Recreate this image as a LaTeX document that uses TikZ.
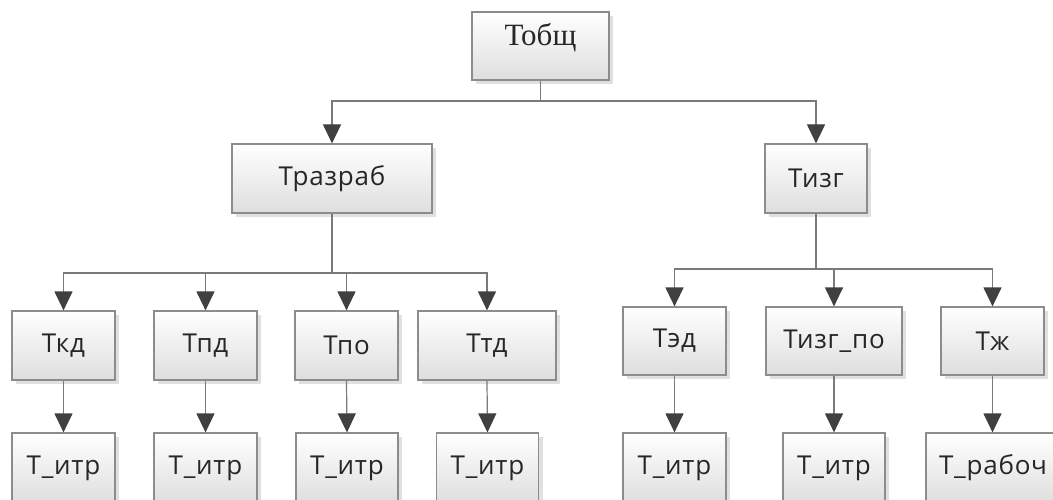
\documentclass[tikz,border=0pt]{standalone}
\usepackage{fontspec}
\setmainfont{Open Sans}[LetterSpace=3]
\newfontfamily\serifrm{Liberation Serif}
\usetikzlibrary{arrows.meta,shadows}
\definecolor{boxline}{HTML}{8C8C8C}
\definecolor{boxbot}{HTML}{DEDEDE}
\definecolor{linegray}{HTML}{7A7A7A}
\definecolor{tipcol}{HTML}{404040}
\definecolor{txt}{HTML}{262626}
\tikzset{
  boxnode/.style={draw=boxline, line width=1.2pt, top color=white, bottom color=boxbot,
    text=txt, font=\fontsize{26}{29}\selectfont, inner sep=0pt, anchor=center,
    drop shadow={shadow xshift=4pt, shadow yshift=-4pt, fill=black, opacity=0.12}},
  conn/.style={draw=linegray, line width=1.2pt, -{Triangle[width=18pt,length=19pt,color=tipcol]}},
  connplain/.style={draw=linegray, line width=1.2pt},
}
\begin{document}
\begin{tikzpicture}[x=1pt,y=-1pt]
\useasboundingbox (0,0) rectangle (1053,500);
\clip (0,0) rectangle (1053,500);
% level 0
\node[boxnode, minimum width=137pt, minimum height=68pt, font=\serifrm\fontsize{31}{34}\selectfont] (tob) at (540.5,46) {\raisebox{0pt}[0pt][0pt]{Тобщ}};
% level 1
\node[boxnode, minimum width=200pt, minimum height=69pt] (raz) at (332,178.5) {Тразраб};
\node[boxnode, minimum width=102pt, minimum height=69pt] (izg) at (816,178.5) {Тизг};
% level 2 left
\node[boxnode, minimum width=103pt, minimum height=69pt] (kd) at (63.5,345.5) {Ткд};
\node[boxnode, minimum width=103pt, minimum height=69pt] (pd) at (205.5,345.5) {Тпд};
\node[boxnode, minimum width=103pt, minimum height=69pt] (po) at (346.5,345.5) {Тпо};
\node[boxnode, minimum width=138pt, minimum height=69pt] (td) at (487,345.5) {Ттд};
% level 2 right
\node[boxnode, minimum width=103pt, minimum height=68pt] (ed) at (674.5,341) {Тэд};
\node[boxnode, minimum width=136pt, minimum height=68pt] (izgpo) at (834,341) {Тизг\_по};
\node[boxnode, minimum width=103pt, minimum height=68pt] (zh) at (992.5,341) {Тж};
% level 3
\node[boxnode, minimum width=103pt, minimum height=70pt] (i1) at (63.5,468) {Т\_итр};
\node[boxnode, minimum width=103pt, minimum height=70pt] (i2) at (205.5,468) {Т\_итр};
\node[boxnode, minimum width=102pt, minimum height=70pt] (i3) at (347,468) {Т\_итр};
\node[boxnode, minimum width=102pt, minimum height=70pt] (i4) at (487.5,468) {Т\_итр};
\node[boxnode, minimum width=103pt, minimum height=70pt] (i5) at (674.5,468) {Т\_итр};
\node[boxnode, minimum width=102pt, minimum height=70pt] (i6) at (834,468) {Т\_итр};
\node[boxnode, minimum width=134pt, minimum height=70pt] (rab) at (993,468) {Т\_рабоч};
% junction coordinates
\coordinate (j0) at (540.5,101);
\coordinate (jl) at (332,273);
\coordinate (jr) at (816,269);
% connectors level 0 -> 1
\draw[connplain] (tob.south) -- (j0);
\draw[conn] (j0) -| (raz.north);
\draw[conn] (j0) -| (izg.north);
% level 1 -> 2 left
\draw[connplain] (raz.south) -- (jl);
\draw[conn] (jl) -| (kd.north);
\draw[conn] (jl) -| (pd.north);
\draw[conn] (jl) -| (po.north);
\draw[conn] (jl) -| (td.north);
% level 1 -> 2 right
\draw[connplain] (izg.south) -- (jr);
\draw[conn] (jr) -| (ed.north);
\draw[conn] (jr) -| (izgpo.north);
\draw[conn] (jr) -| (zh.north);
% level 2 -> 3
\draw[conn] (kd.south) -- (i1.north);
\draw[conn] (pd.south) -- (i2.north);
\draw[conn] (po.south) -- (i3.north);
\draw[conn] (td.south) -- (i4.north);
\draw[conn] (ed.south) -- (i5.north);
\draw[conn] (izgpo.south) -- (i6.north);
\draw[conn] (zh.south) -- (zh.south |- rab.north);
\end{tikzpicture}
\end{document}
